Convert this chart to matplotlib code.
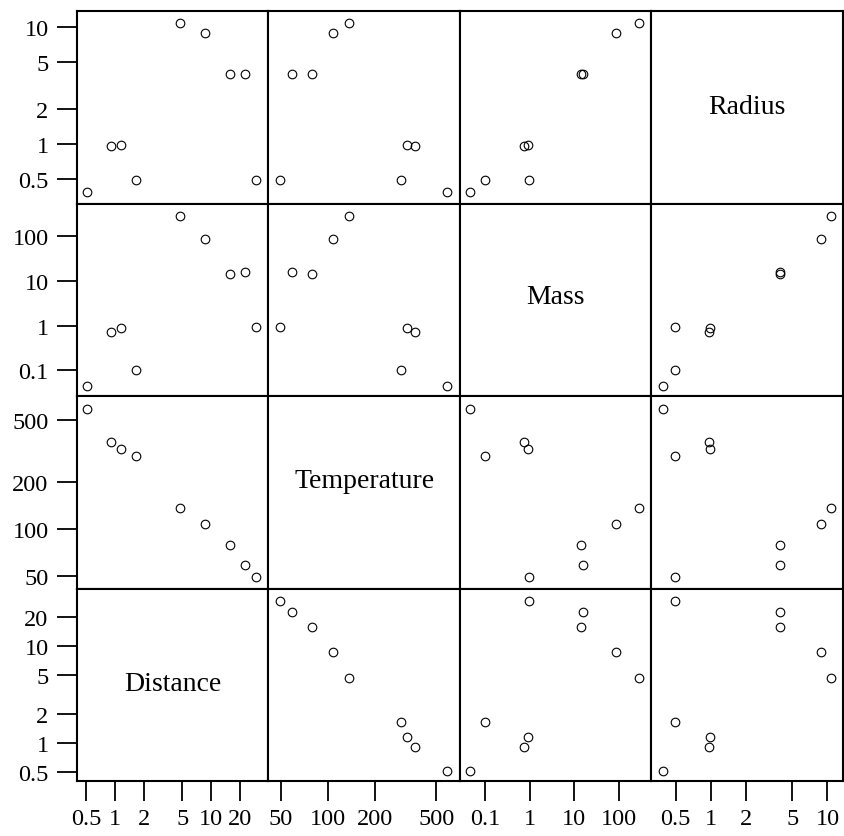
import matplotlib
matplotlib.use("Agg")
import matplotlib.pyplot as plt

# planets: Mercury, Venus, Earth, Mars, Jupiter, Saturn, Uranus, Neptune, Pluto
distance = [0.51, 0.90, 1.15, 1.64, 4.7, 8.6, 15.8, 22.4, 29.0]
temperature = [588, 362, 324, 294, 137, 108, 79, 59, 49.5]
mass = [0.045, 0.74, 0.91, 0.10, 285, 87, 14.2, 16.0, 0.93]
radius = [0.39, 0.96, 0.98, 0.49, 10.8, 8.8, 3.95, 3.95, 0.49]

values = {"Distance": distance, "Temperature": temperature,
          "Mass": mass, "Radius": radius}
limits = {"Distance": (0.40, 39.5), "Temperature": (41.6, 708),
          "Mass": (0.0267, 545), "Radius": (0.31, 13.6)}
ticks = {"Distance": [0.5, 1, 2, 5, 10, 20],
         "Temperature": [50, 100, 200, 500],
         "Mass": [0.1, 1, 10, 100],
         "Radius": [0.5, 1, 2, 5, 10]}

col_vars = ["Distance", "Temperature", "Mass", "Radius"]
row_vars = ["Radius", "Mass", "Temperature", "Distance"]
# vertical place of the name in the diagonal boxes
label_y = {"Radius": 0.505, "Mass": 0.515, "Temperature": 0.56, "Distance": 0.505}

plt.rcParams["font.family"] = ["Liberation Serif", "DejaVu Serif"]


def fmt(v):
    return "{:g}".format(v)


fig, axes = plt.subplots(4, 4, figsize=(8.45, 8.37), dpi=100)
fig.subplots_adjust(left=77 / 845, right=843 / 845, top=1 - 12 / 837,
                    bottom=1 - 782 / 837, wspace=0, hspace=0)

for i, yv in enumerate(row_vars):
    for j, xv in enumerate(col_vars):
        ax = axes[i, j]
        for s in ax.spines.values():
            s.set_linewidth(1.5)
        ax.set_xscale("log")
        ax.set_yscale("log")
        ax.set_xlim(*limits[xv])
        ax.set_ylim(*limits[yv])
        ax.minorticks_off()
        if xv == yv:
            ax.text(0.5, label_y[xv], xv, transform=ax.transAxes, ha="center",
                    va="center", fontsize=20)
        else:
            ax.plot(values[xv], values[yv], "o", mfc="none", mec="black",
                    ms=6.2, mew=0.8)
        if i == 3:
            ax.set_xticks(ticks[xv])
            ax.set_xticklabels([fmt(t) for t in ticks[xv]], fontsize=17.5)
        else:
            ax.set_xticks([])
        if j == 0:
            ax.set_yticks(ticks[yv])
            ax.set_yticklabels([fmt(t) for t in ticks[yv]], fontsize=17.5)
        else:
            ax.set_yticks([])
        ax.tick_params(axis="both", direction="out", length=14.5, width=1.3)
        ax.tick_params(axis="x", pad=5)
        ax.tick_params(axis="y", pad=6)

fig.savefig("out.png", dpi=100)
